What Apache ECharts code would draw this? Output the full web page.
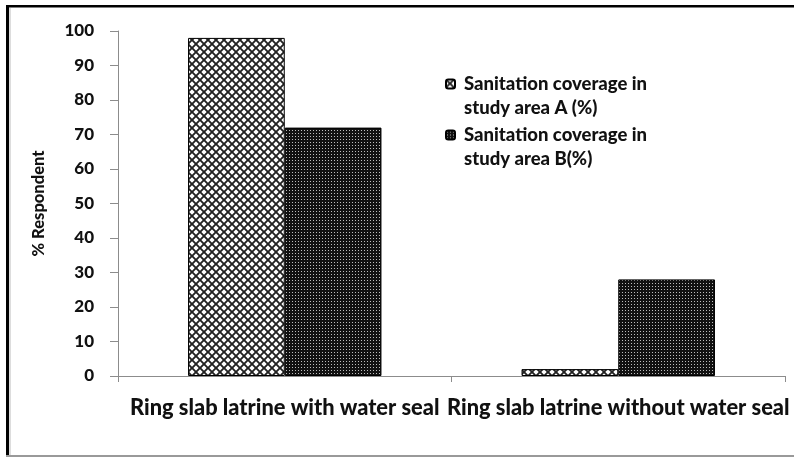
<!DOCTYPE html>
<html><head><meta charset="utf-8">
<script src="https://cdn.jsdelivr.net/npm/echarts@6/dist/echarts.min.js"></script>
<style>html,body{margin:0;padding:0;background:#fff}#c{width:794px;height:457px}</style>
</head><body><div id="c"></div>
<script>
const categories = ['Ring slab latrine with water seal', 'Ring slab latrine without water seal'];
const seriesNames = ['Sanitation coverage in\nstudy area A (%)', 'Sanitation coverage in\nstudy area B(%)'];
const valuesA = [98, 2];
const valuesB = [72, 28];
const yTicks = {min: 0, max: 100, interval: 10};

function patA() {
  const c = document.createElement('canvas'); c.width = 8; c.height = 8;
  const g = c.getContext('2d');
  g.fillStyle = '#fff'; g.fillRect(0, 0, 8, 8);
  g.strokeStyle = '#222'; g.lineWidth = 1.9;
  g.beginPath(); g.moveTo(-1, -1); g.lineTo(9, 9); g.moveTo(9, -1); g.lineTo(-1, 9); g.stroke();
  return c;
}
function patB() {
  const c = document.createElement('canvas'); c.width = 3; c.height = 3;
  const g = c.getContext('2d');
  g.fillStyle = '#111'; g.fillRect(0, 0, 3, 3);
  g.fillStyle = '#bdbdbd'; g.fillRect(1, 1, 1, 1);
  return c;
}
const font = 'Lato';
const W = 900;
const chart = echarts.init(document.getElementById('c'), null, {renderer: 'canvas'});
const legendText = {fontFamily: font, fontWeight: W, fontSize: 18.5, color: '#111', lineHeight: 24, padding: [0, 0, 0, 4]};
const legendFmt = name => '\u00a0\n' + name;
chart.setOption({
  backgroundColor: '#fff',
  animation: false,
  grid: {left: 118, right: 9, top: 31, bottom: 81},
  legend: [
    {data: [seriesNames[0]], formatter: legendFmt, left: 445, top: 48, padding: 0, orient: 'vertical', itemWidth: 9, itemHeight: 9, textStyle: legendText},
    {data: [seriesNames[1]], formatter: legendFmt, left: 445, top: 99, padding: 0, orient: 'vertical', itemWidth: 9, itemHeight: 9, textStyle: legendText}
  ],
  xAxis: {
    type: 'category', data: categories,
    axisLine: {lineStyle: {color: '#8c8c8c', width: 1}},
    axisTick: {show: true, length: 6, lineStyle: {color: '#8c8c8c'}},
    axisLabel: {fontFamily: font, fontWeight: W, fontSize: 21.8, color: '#111', margin: 21, interval: 0}
  },
  yAxis: {
    type: 'value', min: yTicks.min, max: yTicks.max, interval: yTicks.interval,
    name: '% Respondent', nameLocation: 'middle', nameGap: 71,
    nameTextStyle: {fontFamily: font, fontWeight: W, fontSize: 16.5, color: '#111'},
    axisLine: {show: true, lineStyle: {color: '#8c8c8c'}},
    axisTick: {show: true, length: 8, lineStyle: {color: '#8c8c8c'}},
    splitLine: {show: false},
    axisLabel: {fontFamily: font, fontWeight: W, fontSize: 17, color: '#111', margin: 24}
  },
  series: [
    {name: seriesNames[0], type: 'bar', data: valuesA, barGap: '0%', barCategoryGap: '42%',
     itemStyle: {color: {image: patA(), repeat: 'repeat'}, borderColor: '#000', borderWidth: 1}},
    {name: seriesNames[1], type: 'bar', data: valuesB, barGap: '0%', barCategoryGap: '42%',
     itemStyle: {color: {image: patB(), repeat: 'repeat'}, borderColor: '#000', borderWidth: 1}}
  ],
  graphic: [
    {type: 'rect', shape: {x: 6, y: 5, width: 3, height: 450}, style: {fill: '#000'}, silent: true},
    {type: 'rect', shape: {x: 6, y: 5, width: 790, height: 2.5}, style: {fill: '#000'}, silent: true},
    {type: 'rect', shape: {x: 6, y: 455, width: 790, height: 2}, style: {fill: '#999'}, silent: true},
    {type: 'rect', shape: {x: 9.5, y: 8, width: 1, height: 447}, style: {fill: '#bbb'}, silent: true}
  ]
});
</script></body></html>
